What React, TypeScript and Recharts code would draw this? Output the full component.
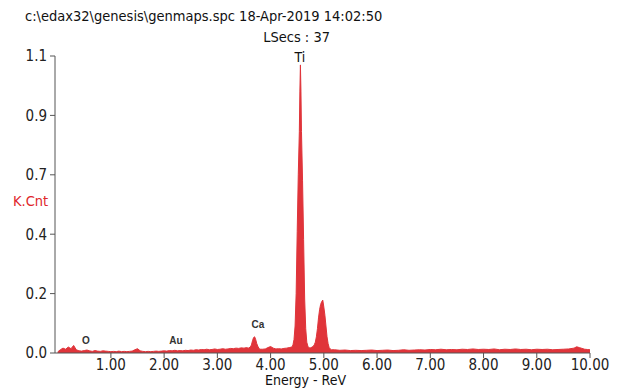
import React from 'react';
import { AreaChart, Area, XAxis, YAxis, ReferenceDot } from 'recharts';

// Spectrum bands: [energy keV, counts (K.Cnt)]
const lowBand: [number, number][] = [
  [0.0, 0.004], [0.05, 0.012], [0.1, 0.018], [0.15, 0.014], [0.2, 0.022], [0.25, 0.016], [0.3, 0.028], [0.35, 0.012],
  [0.4, 0.008], [0.45, 0.007], [0.5, 0.009], [0.55, 0.011], [0.6, 0.008], [0.65, 0.006], [0.7, 0.009], [0.75, 0.007],
  [0.8, 0.006], [0.85, 0.008], [0.9, 0.007], [0.95, 0.006], [1.0, 0.005], [1.05, 0.006], [1.1, 0.005], [1.15, 0.007],
  [1.2, 0.005], [1.25, 0.006], [1.3, 0.005], [1.35, 0.006], [1.4, 0.007], [1.45, 0.012], [1.5, 0.016], [1.55, 0.008],
  [1.6, 0.006], [1.65, 0.005], [1.7, 0.006], [1.75, 0.005], [1.8, 0.006], [1.85, 0.007], [1.9, 0.006], [1.95, 0.007],
  [2.0, 0.008], [2.05, 0.007], [2.1, 0.009], [2.15, 0.008], [2.2, 0.01], [2.25, 0.008], [2.3, 0.009], [2.35, 0.008],
  [2.4, 0.01], [2.45, 0.009], [2.5, 0.011], [2.55, 0.01], [2.6, 0.012], [2.65, 0.011], [2.7, 0.013], [2.75, 0.012],
  [2.8, 0.014], [2.85, 0.012], [2.9, 0.013], [2.95, 0.015], [3.0, 0.013], [3.05, 0.014], [3.1, 0.016], [3.15, 0.014],
  [3.2, 0.015], [3.25, 0.017], [3.3, 0.016], [3.35, 0.018], [3.4, 0.017], [3.45, 0.019], [3.5, 0.018], [3.55, 0.02],
];

const caBand: [number, number][] = [
  [3.58, 0.018], [3.62, 0.022], [3.64, 0.03], [3.66, 0.045], [3.68, 0.057], [3.7, 0.06], [3.72, 0.05], [3.74, 0.035],
  [3.76, 0.025], [3.78, 0.018], [3.8, 0.014], [3.85, 0.014], [3.9, 0.015], [3.95, 0.02], [4.0, 0.024], [4.05, 0.018],
  [4.1, 0.015], [4.15, 0.016], [4.2, 0.015], [4.25, 0.017], [4.3, 0.018], [4.35, 0.02],
];

const tiBand: [number, number][] = [
  [4.4, 0.022], [4.42, 0.03], [4.44, 0.05], [4.46, 0.1], [4.48, 0.22], [4.5, 0.45], [4.52, 0.66], [4.54, 0.82],
  [4.55, 0.97], [4.56, 1.067], [4.57, 0.97], [4.58, 0.82], [4.6, 0.64], [4.62, 0.42], [4.64, 0.2], [4.66, 0.09],
  [4.68, 0.04], [4.7, 0.025], [4.72, 0.02], [4.74, 0.018], [4.76, 0.02], [4.78, 0.022], [4.8, 0.025], [4.82, 0.03],
  [4.84, 0.04], [4.86, 0.06], [4.88, 0.09], [4.9, 0.13], [4.92, 0.16], [4.94, 0.18], [4.96, 0.19], [4.98, 0.196],
  [5.0, 0.17], [5.02, 0.14], [5.04, 0.1], [5.06, 0.06], [5.08, 0.035], [5.1, 0.02], [5.12, 0.015], [5.14, 0.012],
];

const highBand: [number, number][] = [
  [5.2, 0.012], [5.3, 0.01], [5.4, 0.011], [5.5, 0.009], [5.6, 0.01], [5.7, 0.009], [5.8, 0.01], [5.9, 0.011],
  [6.0, 0.009], [6.1, 0.01], [6.2, 0.011], [6.3, 0.009], [6.4, 0.01], [6.5, 0.012], [6.6, 0.01], [6.7, 0.011],
  [6.8, 0.012], [6.9, 0.011], [7.0, 0.013], [7.1, 0.012], [7.2, 0.014], [7.3, 0.012], [7.4, 0.013], [7.5, 0.012],
  [7.6, 0.014], [7.7, 0.013], [7.8, 0.015], [7.9, 0.013], [8.0, 0.014], [8.1, 0.013], [8.2, 0.015], [8.3, 0.012],
  [8.4, 0.014], [8.5, 0.013], [8.6, 0.015], [8.7, 0.013], [8.8, 0.014], [8.9, 0.012], [9.0, 0.014], [9.1, 0.013],
  [9.2, 0.014], [9.3, 0.012], [9.4, 0.013], [9.5, 0.014], [9.6, 0.015], [9.7, 0.018], [9.75, 0.023], [9.8, 0.02],
  [9.85, 0.017], [9.9, 0.014], [9.95, 0.013], [10.0, 0.012],
];

const xTicks = [1, 2, 3, 4, 5, 6, 7, 8, 9, 10];
const yTicks = [0, 0.22, 0.44, 0.66, 0.88, 1.1];
const yTickLabels = ['0.0', '0.2', '0.4', '0.7', '0.9', '1.1'];

const elementLabels = [
  { name: 'O', energy: 0.53, level: 0.048 },
  { name: 'Au', energy: 2.22, level: 0.048 },
  { name: 'Ca', energy: 3.76, level: 0.107 },
];

const headerText = 'c:\\edax32\\genesis\\genmaps.spc 18-Apr-2019 14:02:50';
const liveText = 'LSecs : 37';

const data = [...lowBand, ...caBand, ...tiBand, ...highBand].map(([e, c]) => ({ e, c }));

const FONT = "'Liberation Sans Narrow', 'DejaVu Sans Condensed', 'Noto Sans', sans-serif";
const RED = '#e0343a';

export default function App() {
  return (
    <div style={{ position: 'absolute', left: 0, top: 0, width: 622, height: 389, background: '#fff', overflow: 'hidden' }}>
      <AreaChart width={622} height={389} data={data} margin={{ top: 56, right: 32, bottom: 6, left: 0 }}>
        <XAxis
          dataKey="e"
          type="number"
          domain={[-0.05, 10]}
          ticks={xTicks}
          allowDataOverflow
          tickFormatter={(v: number) => v.toFixed(2)}
          height={30}
          tickSize={5}
          tickMargin={1}
          stroke="#555"
          tick={{ fill: '#222', fontSize: 15, fontFamily: FONT }}
        />
        <YAxis
          type="number"
          domain={[0, 1.1]}
          ticks={yTicks}
          width={55}
          tickSize={5}
          tickMargin={3}
          tickFormatter={(v: number) => yTickLabels[yTicks.indexOf(v)] ?? ''}
          stroke="#555"
          tick={{ fill: '#222', fontSize: 15, fontFamily: FONT }}
        />
        <Area
          type="linear"
          dataKey="c"
          stroke={RED}
          strokeWidth={1}
          fill={RED}
          fillOpacity={1}
          isAnimationActive={false}
        />
        {elementLabels.map((l) => (
          <ReferenceDot
            key={l.name}
            x={l.energy}
            y={l.level}
            r={0}
            stroke="none"
            fill="none"
            label={{ value: l.name, position: 'center', fill: '#333', fontSize: 10, fontWeight: 'bold', fontFamily: "'Liberation Sans', Arial, sans-serif" }}
          />
        ))}
        <ReferenceDot
          x={4.55}
          y={1.096}
          r={0}
          stroke="none"
          fill="none"
          label={{ value: 'Ti', position: 'center', fill: '#111', fontSize: 14, fontFamily: FONT }}
        />
      </AreaChart>
      <div style={{ position: 'absolute', left: 25, top: 8, fontFamily: FONT, fontSize: 14.5, color: '#111', whiteSpace: 'nowrap' }}>
        {headerText}
      </div>
      <div style={{ position: 'absolute', right: 292, top: 29, fontFamily: FONT, fontSize: 14.5, color: '#111', whiteSpace: 'nowrap' }}>
        {liveText}
      </div>
      <div style={{ position: 'absolute', left: 13, top: 193, fontFamily: FONT, fontSize: 14.5, color: '#e0262c', whiteSpace: 'nowrap' }}>
        K.Cnt
      </div>
      <div style={{ position: 'absolute', left: 265, top: 372, fontFamily: FONT, fontSize: 14, color: '#111', whiteSpace: 'nowrap' }}>
        Energy - ReV
      </div>
    </div>
  );
}
